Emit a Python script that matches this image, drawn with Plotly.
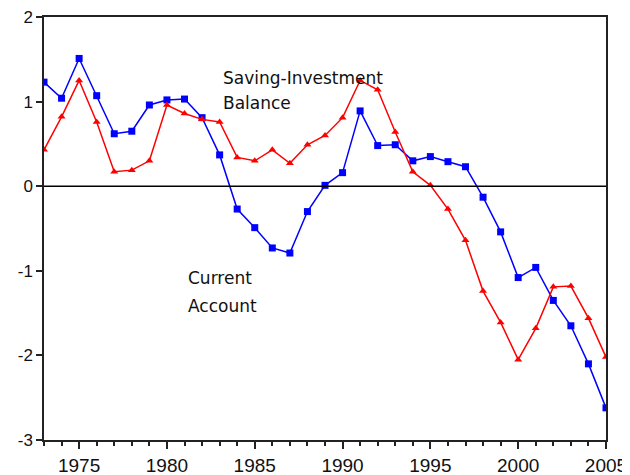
import plotly.graph_objects as go

years = list(range(1973, 2006))
current_account = [1.23, 1.04, 1.51, 1.07, 0.62, 0.65, 0.96, 1.02, 1.03, 0.81,
                   0.37, -0.27, -0.49, -0.73, -0.79, -0.30, 0.01, 0.16, 0.89, 0.48,
                   0.49, 0.30, 0.35, 0.29, 0.23, -0.13, -0.54, -1.08, -0.96, -1.35,
                   -1.65, -2.10, -2.62]
saving_investment = [0.43, 0.82, 1.25, 0.76, 0.17, 0.19, 0.30, 0.96, 0.86, 0.79,
                     0.76, 0.34, 0.30, 0.43, 0.27, 0.49, 0.60, 0.81, 1.25, 1.14,
                     0.64, 0.17, 0.01, -0.27, -0.64, -1.24, -1.61, -2.05, -1.68, -1.19,
                     -1.18, -1.56, -2.02]
x_tickvals = [1975, 1980, 1985, 1990, 1995, 2000, 2005]
y_tickvals = [-3, -2, -1, 0, 1, 2]
y_ticktext = ["-3", "-2", "-1", "0", "1", "2"]

fig = go.Figure()
fig.add_trace(go.Scatter(x=years, y=current_account, mode="lines+markers",
                         line=dict(color="#0000ff", width=1.5),
                         marker=dict(symbol="square", size=7, color="#0000ff"),
                         name="Current Account"))
fig.add_trace(go.Scatter(x=years, y=saving_investment, mode="lines+markers",
                         line=dict(color="#ff0000", width=1.5),
                         marker=dict(symbol="triangle-up", size=7, color="#ff0000"),
                         name="Saving-Investment Balance"))

fig.add_hline(y=0, line=dict(color="black", width=1.5))

ann_font = dict(family="DejaVu Sans, sans-serif", size=17, color="#111111")
for txt, x, y in [("Saving-Investment", 1983.1, 1.28), ("Balance", 1983.1, 0.98),
                  ("Current", 1981.1, -1.08), ("Account", 1981.1, -1.42)]:
    fig.add_annotation(x=x, y=y, text=txt, showarrow=False, xanchor="left",
                       yanchor="middle", font=ann_font)

xfont = dict(family="Liberation Sans, Arial, sans-serif", size=19, color="#111111")
yfont = dict(family="Liberation Sans, Arial, sans-serif", size=17, color="#111111")

# page body has an 8px margin, so the figure is sized/offset to fit the 630x475 window
fig.update_layout(
    width=622, height=467,
    margin=dict(l=36, r=24, t=9, b=35),
    paper_bgcolor="white", plot_bgcolor="white",
    showlegend=False,
)
fig.update_xaxes(range=[1973, 2005], tickvals=x_tickvals, ticks="outside",
                 ticklen=7, tickwidth=1.5, tickcolor="#222", automargin=False,
                 ticklabeloverflow="allow",
                 minor=dict(dtick=1, ticks="outside", ticklen=4, tickwidth=1.5, tickcolor="#222"),
                 showline=True, linecolor="#222", linewidth=1.5, mirror=True,
                 showgrid=False, zeroline=False, tickfont=xfont)
fig.update_yaxes(range=[-3, 2], tickvals=y_tickvals, ticktext=y_ticktext, ticks="outside",
                 ticklen=6, tickwidth=1.5, tickcolor="#222", automargin=False,
                 ticklabeloverflow="allow",
                 showline=True, linecolor="#222", linewidth=1.5, mirror=True,
                 showgrid=False, zeroline=False, tickfont=yfont)

fig.write_html("out.html")
